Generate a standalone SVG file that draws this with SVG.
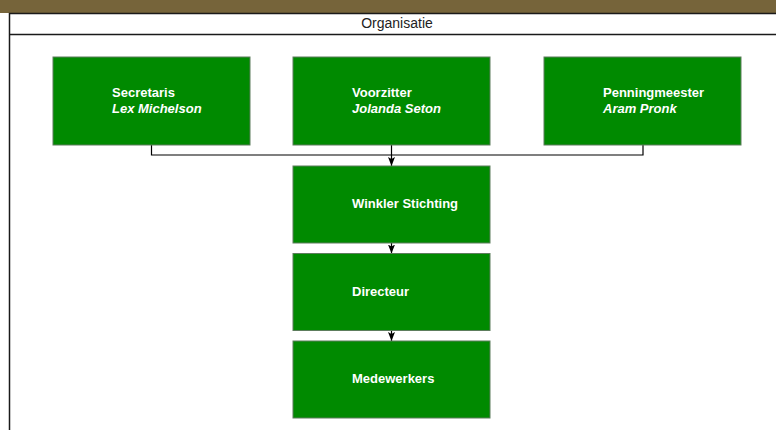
<svg xmlns="http://www.w3.org/2000/svg" width="776" height="430" viewBox="0 0 776 430">
  <defs>
    <marker id="arrow" viewBox="0 0 9 7" refX="9" refY="3.5" markerWidth="9" markerHeight="7" markerUnits="userSpaceOnUse" orient="auto">
      <path d="M0,0 L9,3.5 L0,7 L2,3.5 Z" fill="#000"/>
    </marker>
    <style>
      .box { fill: #008a00; stroke: #5d7d5d; stroke-width: 1; }
      .lbl { font-family: "Liberation Sans", Arial, sans-serif; font-size: 13px; font-weight: bold; fill: #ffffff; }
      .it { font-style: italic; }
      .conn { fill: none; stroke: #000; stroke-width: 1.2; }
      .title { font-family: "Liberation Sans", Arial, sans-serif; font-size: 14px; fill: #222; }
    </style>
  </defs>
  <rect x="0" y="0" width="776" height="430" fill="#ffffff"/>
  <rect x="0" y="0" width="776" height="13" fill="#76643a"/>
  <g id="container">
    <rect x="9.5" y="13.5" width="800" height="500" fill="#ffffff" stroke="#1a1a1a" stroke-width="1.5"/>
    <line x1="9.5" y1="34.5" x2="776" y2="34.5" stroke="#1a1a1a" stroke-width="1.5"/>
    <text class="title" x="397" y="28" text-anchor="middle">Organisatie</text>
  </g>
  <g id="connectors">
    <polyline class="conn" points="151.5,145 151.5,155 643,155 643,145"/>
    <line class="conn" x1="391.5" y1="145" x2="391.5" y2="166" marker-end="url(#arrow)"/>
    <line class="conn" x1="391.5" y1="243" x2="391.5" y2="253.5" marker-end="url(#arrow)"/>
    <line class="conn" x1="391.5" y1="331" x2="391.5" y2="341" marker-end="url(#arrow)"/>
  </g>
  <g id="secretaris">
    <rect class="box" x="53" y="57" width="197" height="88"/>
    <text class="lbl" x="112" y="97">Secretaris</text>
    <text class="lbl it" x="112" y="113">Lex Michelson</text>
  </g>
  <g id="voorzitter">
    <rect class="box" x="293" y="57" width="197" height="88"/>
    <text class="lbl" x="352" y="97">Voorzitter</text>
    <text class="lbl it" x="352" y="113">Jolanda Seton</text>
  </g>
  <g id="penningmeester">
    <rect class="box" x="544" y="57" width="197" height="88"/>
    <text class="lbl" x="603" y="97">Penningmeester</text>
    <text class="lbl it" x="603" y="113">Aram Pronk</text>
  </g>
  <g id="winkler">
    <rect class="box" x="293" y="166" width="197" height="77"/>
    <text class="lbl" x="352" y="208">Winkler Stichting</text>
  </g>
  <g id="directeur">
    <rect class="box" x="293" y="253.5" width="197" height="77"/>
    <text class="lbl" x="352" y="296">Directeur</text>
  </g>
  <g id="medewerkers">
    <rect class="box" x="293" y="341" width="197" height="77"/>
    <text class="lbl" x="352" y="383">Medewerkers</text>
  </g>
</svg>
